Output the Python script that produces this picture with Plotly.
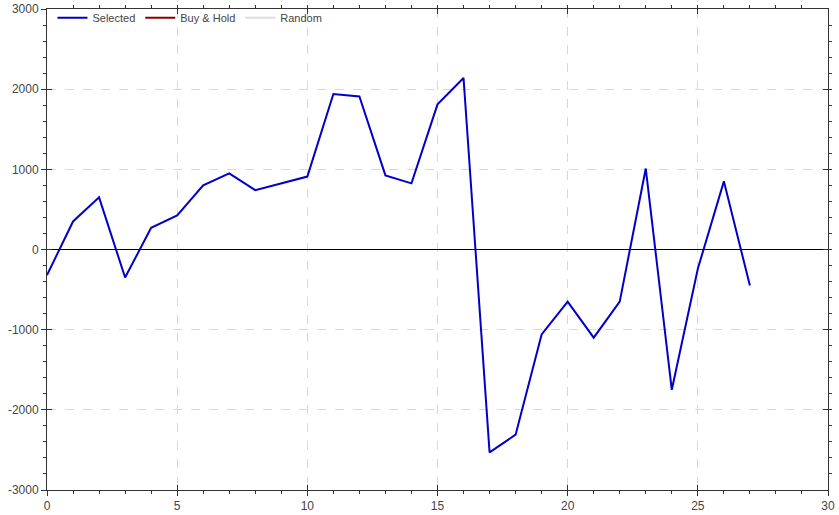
import plotly.graph_objects as go

trades = list(range(28))
selected = [-320, 350, 650, -350, 270, 425, 800, 950, 740, 825, 910, 1940, 1910, 925,
            825, 1810, 2140, -2530, -2310, -1060, -650, -1100, -650, 1010, -1750, -240,
            850, -450]

series_names = ["Selected", "Buy & Hold", "Random"]
series_colors = ["#0000c8", "#8b0000", "#dcdcdc"]

x_range = [0, 30]
y_range = [-3000, 3000]
y_tickvals = [-3000, -2000, -1000, 0, 1000, 2000, 3000]
y_ticktext = ["-3000", "-2000", "-1000", "0", "1000", "2000", "3000"]

fig = go.Figure()
fig.add_trace(go.Scatter(x=trades, y=selected, mode="lines", name=series_names[0],
                         line=dict(color=series_colors[0], width=2)))
for nm, col in zip(series_names[1:], series_colors[1:]):
    fig.add_trace(go.Scatter(x=[None], y=[None], mode="lines", name=nm,
                             line=dict(color=col, width=2)))

# helper invisible traces for extra axes (inside ticks on all sides)
for xa, ya in [("x", "y2"), ("x2", "y"), ("x", "y3"), ("x3", "y")]:
    fig.add_trace(go.Scatter(x=[None], y=[None], xaxis=xa, yaxis=ya, showlegend=False,
                             hoverinfo="skip"))

font = dict(family="Arial, Liberation Sans, sans-serif", size=12, color="#444444")
common_x = dict(range=x_range, linecolor="#333333", automargin=False,
                linewidth=1, dtick=5, tick0=0, ticklen=5, tickcolor="#333333",
                minor=dict(dtick=1, ticklen=3, tickcolor="#333333"))
common_y = dict(range=y_range, linecolor="#333333", automargin=False,
                linewidth=1, tickmode="array", tickvals=y_tickvals, ticktext=y_ticktext,
                ticklen=5, tickcolor="#333333",
                minor=dict(dtick=200, tick0=0, ticklen=3, tickcolor="#333333"))

fig.update_layout(
    width=839, height=515,
    margin=dict(l=47, r=11, t=9, b=25, autoexpand=False),
    paper_bgcolor="white", plot_bgcolor="white",
    font=font,
    showlegend=True,
    legend=dict(orientation="h", x=0.007, y=1.012, xanchor="left", yanchor="top",
                bgcolor="rgba(0,0,0,0)", font=dict(size=11, color="#444444"),
                itemwidth=30, tracegroupgap=0),
    xaxis=dict(**common_x, ticks="outside", showticklabels=True, zeroline=False,
               showgrid=True, gridcolor="#d8d8d8", griddash="dash", gridwidth=1),
    yaxis=dict(**common_y, ticks="outside", showticklabels=True,
               zeroline=True, zerolinecolor="black", zerolinewidth=1,
               showgrid=True, gridcolor="#d8d8d8", griddash="dash", gridwidth=1),
    xaxis2=dict(**common_x, overlaying="x", side="top", ticks="inside",
                showticklabels=False, showgrid=False, zeroline=False),
    xaxis3=dict(**common_x, overlaying="x", side="bottom", ticks="inside",
                showticklabels=False, showgrid=False, zeroline=False),
    yaxis2=dict(**common_y, overlaying="y", side="right", ticks="inside",
                showticklabels=False, showgrid=False, zeroline=False),
    yaxis3=dict(**common_y, overlaying="y", side="left", ticks="inside",
                showticklabels=False, showgrid=False, zeroline=False),
)

fig.write_html("out.html", config={"displayModeBar": False},
               post_script="document.body.style.margin='0';")
